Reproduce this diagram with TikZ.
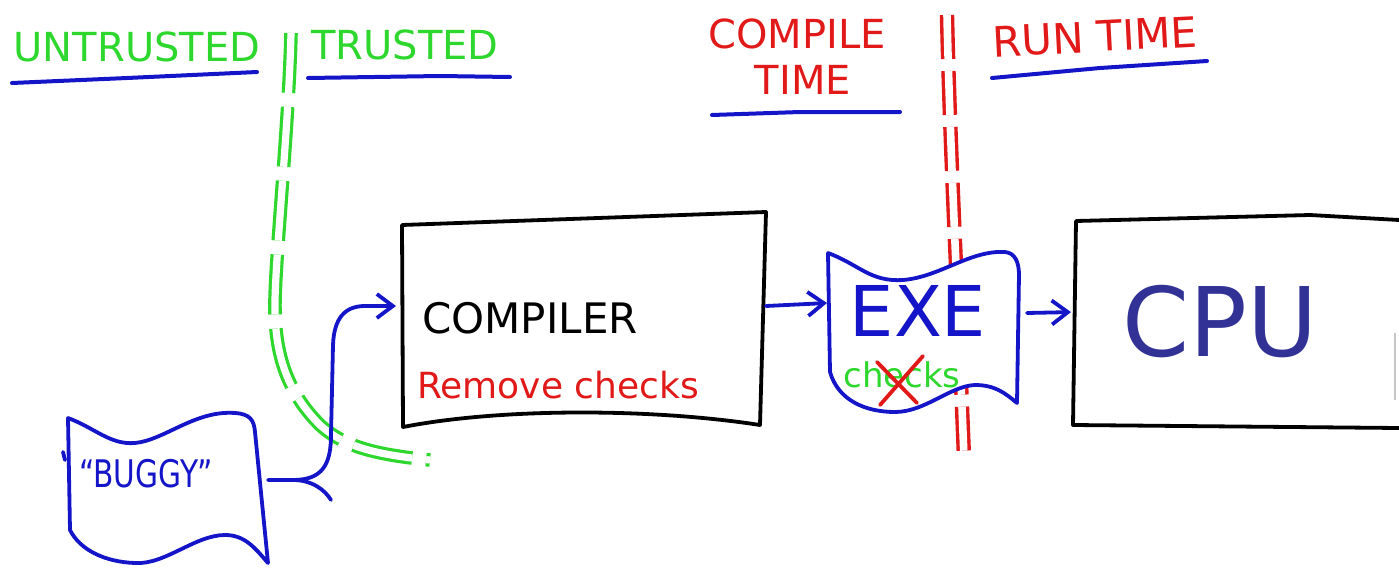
\documentclass[tikz,border=0pt]{standalone}
\usepackage{fontspec}
\setmainfont{DejaVu Sans}
\usetikzlibrary{arrows.meta}
\definecolor{gr}{RGB}{45,215,45}
\definecolor{rd}{RGB}{225,25,25}
\definecolor{bl}{RGB}{20,20,200}
\definecolor{cpublue}{RGB}{50,50,150}
\tikzset{
  pen/.style={line width=1.9pt, line cap=round, line join=round},
  bluepen/.style={pen, draw=bl},
  blackpen/.style={pen, draw=black},
  arr/.style={bluepen, -{Straight Barb[length=8pt,width=12pt,line width=1.9pt]}},
  uline/.style={draw=bl, line width=2pt, line cap=round},
  hit/.style={inner sep=0pt, outer sep=0pt, minimum height=1pt},
  lbl/.style={inner sep=0pt, outer sep=0pt},
  fs/.style={font=\fontsize{#1}{#1}\selectfont},
  gborder/.style={draw=gr, line width=1.6pt, double=white, double distance=3.6pt, dash pattern=on 30pt off 7pt},
  rborder/.style={draw=rd, line width=1.7pt, double=white, double distance=3.8pt, dash pattern=on 22pt off 6pt},
}
\begin{document}
\begin{tikzpicture}[x=0.5pt,y=-0.5pt]
\useasboundingbox (0,0) rectangle (1399,568);

% ---- headings ----
\node[lbl, fs=20, text=gr] (untrusted) at (137,47) {UNTRUSTED};
\node[lbl, fs=20, text=gr] (trusted) at (405,45) {TRUSTED};
\node[lbl, fs=20, text=rd] (compile) at (797,34) {COMPILE};
\node[lbl, fs=20, text=rd] (time) at (803,80) {TIME};
\node[lbl, fs=21, text=rd, rotate=3] (runtime) at (1095,37) {RUN TIME};

\draw[uline] (12,83) -- (127,78) -- (257,72);
\draw[uline] (308,78) -- (440,76) -- (510,77);
\draw[uline] (712,115) -- (800,112) -- (900,112);
\draw[uline] (992,78) -- (1100,68) -- (1207,61);

% ---- boundaries ----
\draw[gborder] (291,33) .. controls (289,120) and (276,250) .. (275,300)
  .. controls (274,350) and (285,390) .. (320,425)
  .. controls (345,448) and (380,455) .. (430,460);
\draw[rborder] (947,15) .. controls (950,150) and (958,300) .. (964,458);

% ---- compiler box ----
\draw[blackpen, fill=white] (402,225) -- (766,212) -- (760,425)
  .. controls (650,408) and (500,408) .. (403,427) -- cycle;
\node[hit, minimum width=182pt] (comp) at (584,306) {};
\node[lbl, fs=21] (complbl) at (530,318) {COMPILER};
\node[lbl, fs=18, text=rd] (remove) at (558,385) {Remove checks};

% ---- EXE flag ----
\draw[bluepen, fill=white] (828,253) .. controls (860,265) and (870,282) .. (903,280)
  .. controls (940,277) and (970,250) .. (1005,252)
  .. controls (1015,253) and (1019,262) .. (1019,275)
  -- (1017,403)
  .. controls (1005,393) and (995,385) .. (975,385)
  .. controls (950,386) and (925,412) .. (895,412)
  .. controls (865,412) and (838,400) .. (830,372) -- cycle;
\node[hit, minimum width=95pt] (exe) at (922,303) {};
\node[lbl, fs=35, text=bl] (exelbl) at (918,311) {EXE};
\node[lbl, fs=17, text=gr] (checks) at (902,375) {checks};
\draw[pen, draw=rd] (877,362) -- (917,403);
\draw[pen, draw=rd] (923,356) -- (880,405);

% ---- CPU box ----
\draw[blackpen] (1399,220) -- (1310,215) -- (1076,221) -- (1073,425) -- (1399,428);
\node[hit, minimum width=162pt] (cpu) at (1237,312) {};
\node[lbl, fs=48, text=cpublue] (cpulbl) at (1220,322) {CPU};
\draw[gray!45, line width=0.6pt] (1395,333) -- (1395,400);

% ---- BUGGY flag ----
\draw[bluepen, fill=white] (68,418) .. controls (95,428) and (110,445) .. (135,443)
  .. controls (165,440) and (195,410) .. (235,413)
  .. controls (250,414) and (254,420) .. (255,432)
  -- (268,563)
  .. controls (255,548) and (245,535) .. (225,535)
  .. controls (195,535) and (165,565) .. (135,563)
  .. controls (105,562) and (80,550) .. (70,530) -- cycle;
\draw[bluepen] (63,452) -- (65,460);
\node[hit, minimum width=100pt] (buggy) at (168,480) {};
\node[lbl, fs=19, text=bl, xscale=0.78] (buggylbl) at (146,474) {“BUGGY”};

% ---- connectors ----
\coordinate (fork) at (293,480);
\draw[arr, shorten >=3pt] (buggy.east) -- (fork) .. controls (322,480) and (331,465) .. (331,435)
  -- (333,345) .. controls (334,318) and (345,306) .. (365,306) -- (comp.west);
\draw[bluepen] (fork) .. controls (312,480) and (325,490) .. (331,500);
\draw[arr] (comp.east) -- (exe.west);
\draw[arr, shorten >=2pt] ([xshift=5pt,yshift=-5pt]exe.east) -- (cpu.west);
\end{tikzpicture}
\end{document}
